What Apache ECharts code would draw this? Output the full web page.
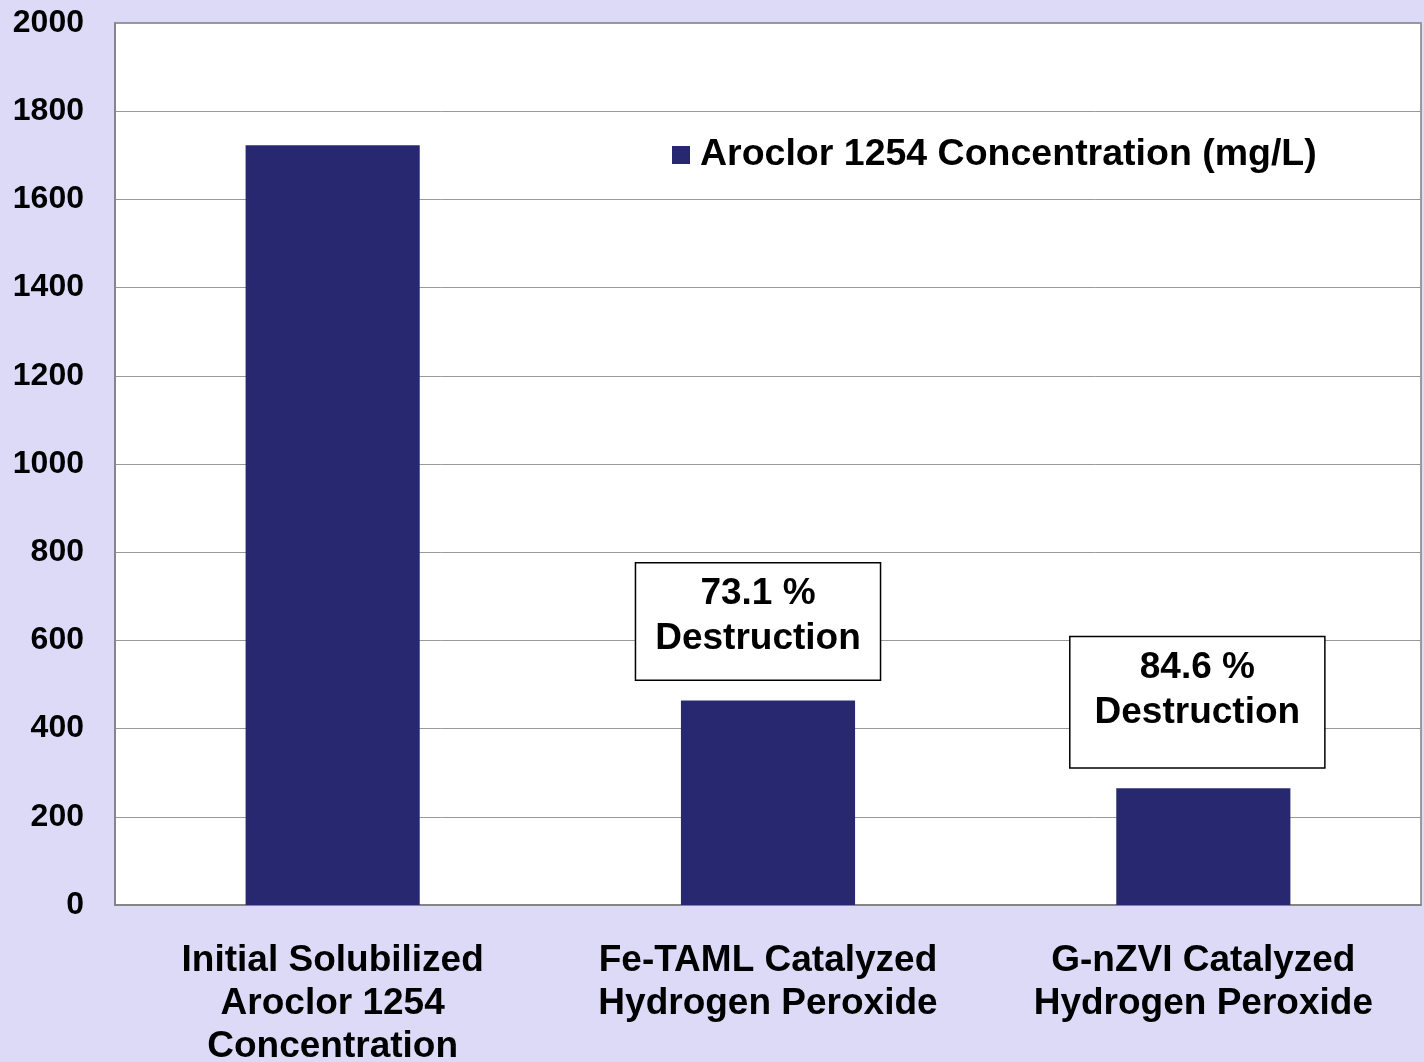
<!DOCTYPE html>
<html>
<head>
<meta charset="utf-8">
<script src="https://cdn.jsdelivr.net/npm/echarts@6/dist/echarts.min.js"></script>
<style>
  html, body { margin: 0; padding: 0; background: #dddaf7; }
  #chart { width: 1424px; height: 1062px; }
</style>
</head>
<body>
<div id="chart"></div>
<script>
var categories = ['Initial Solubilized\nAroclor 1254\nConcentration', 'Fe-TAML Catalyzed\nHydrogen Peroxide', 'G-nZVI Catalyzed\nHydrogen Peroxide'];
var concValues = [1723, 464, 265];
var destructionNotes = ['', '73.1 %\nDestruction', '84.6 %\nDestruction'];
var seriesName = 'Aroclor 1254 Concentration (mg/L)';

var fontFam = '"Liberation Sans", Arial, sans-serif';

// note boxes sit above bars 2 and 3
var barData = concValues.map(function(v, i){
  var item = { value: v };
  if (destructionNotes[i]) {
    item.label = {
      show: true,
      position: 'top',
      distance: 21,
      offset: [i == 1 ? -10 : -6, 0],
      formatter: destructionNotes[i],
      color: '#000',
      fontFamily: fontFam,
      fontWeight: 'bold',
      fontSize: 37,
      lineHeight: 45,
      backgroundColor: '#fff',
      borderColor: '#000',
      borderWidth: 1.5,
      padding: i == 1 ? [8, 19, 18, 19] : [8, 24, 32, 24]
    };
  }
  return item;
});

var myChart = echarts.init(document.getElementById('chart'));
var option = {
  backgroundColor: '#dddaf7',
  animation: false,
  grid: {
    left: 115, right: 3, top: 23, bottom: 157,
    outerBoundsMode: 'none',
    containLabel: false,
    show: true,
    backgroundColor: '#ffffff',
    borderColor: '#7f7f7f',
    borderWidth: 1.5
  },
  legend: {
    data: [seriesName],
    left: 667, top: 131,
    icon: 'rect',
    itemWidth: 18, itemHeight: 18,
    textStyle: { fontFamily: fontFam, fontWeight: 'bold', fontSize: 37.5, color: '#000', padding: [0, 0, 0, 5] }
  },
  xAxis: {
    type: 'category',
    data: categories,
    axisLine: { show: true, lineStyle: { color: '#7f7f7f', width: 1.5 } },
    axisTick: { show: false },
    axisLabel: {
      interval: 0,
      margin: 34,
      color: '#000',
      fontFamily: fontFam,
      fontWeight: 'bold',
      fontSize: 37,
      lineHeight: 43
    }
  },
  yAxis: {
    type: 'value',
    min: 0, max: 2000, interval: 200,
    axisLine: { show: true, lineStyle: { color: '#7f7f7f', width: 1.5 } },
    axisTick: { show: false },
    splitLine: { lineStyle: { color: '#999999', width: 1 } },
    axisLabel: {
      margin: 31,
      color: '#000',
      fontFamily: fontFam,
      fontWeight: 'bold',
      fontSize: 32,
      formatter: function(v){ return String(v); }
    }
  },
  series: [
    {
      name: seriesName,
      type: 'bar',
      data: barData,
      barWidth: '40%',
      itemStyle: { color: '#282870' }
    }
  ]
};
myChart.setOption(option);
</script>
</body>
</html>
